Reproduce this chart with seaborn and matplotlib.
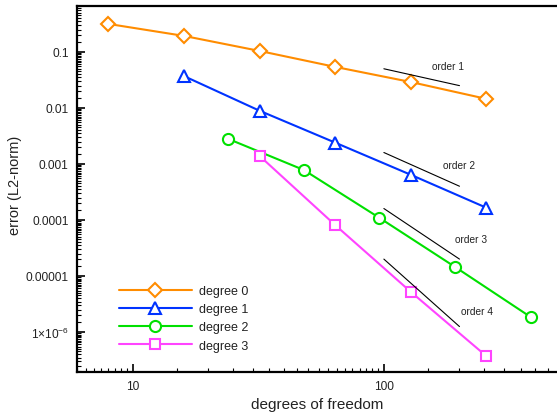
import numpy as np
import pandas as pd
import matplotlib
matplotlib.use("Agg")
import matplotlib.pyplot as plt
import matplotlib.ticker as mticker
from matplotlib.lines import Line2D
import seaborn as sns

# ---- data ----
dof0 = [8, 16, 32, 64, 128, 256]
err0 = [0.316, 0.193, 0.104, 0.054, 0.029, 0.0145]
dof1 = [16, 32, 64, 128, 256]
err1 = [0.037, 0.0089, 0.0024, 0.00064, 0.000165]
dof2 = [24, 48, 96, 192, 384]
err2 = [0.0028, 0.00078, 0.000109, 1.45e-5, 1.85e-6]
dof3 = [32, 64, 128, 256]
err3 = [0.00139, 8.1e-5, 5.2e-6, 3.7e-7]
series_names = ["degree 0", "degree 1", "degree 2", "degree 3"]

order_x = [100, 200]
order1_y = [0.050, 0.025]
order2_y = [0.0016, 0.0004]
order3_y = [1.6e-4, 2.0e-5]
order4_y = [2.0e-5, 1.25e-6]
order_names = ["order 1", "order 2", "order 3", "order 4"]
order_label_x = [180, 199, 222, 235]
order_label_y = [0.056, 0.00096, 4.6e-5, 2.4e-6]

ytick_vals = [1e-6, 1e-5, 1e-4, 1e-3, 1e-2, 1e-1]
ytick_labels = [r"$\mathregular{1{\times}10^{-6}}$", "0.00001", "0.0001", "0.001", "0.01", "0.1"]
xtick_vals = [10, 100]
xtick_labels = ["10", "100"]

# ---- style ----
sns.set_style("white")
plt.rcParams["font.family"] = ["Liberation Sans", "DejaVu Sans"]
plt.rcParams["mathtext.fontset"] = "custom"
plt.rcParams["mathtext.rm"] = "Liberation Sans"
plt.rcParams["mathtext.it"] = "Liberation Sans:italic"
plt.rcParams["mathtext.bf"] = "Liberation Sans:bold"

colors = ["#FF8C00", "#0033FF", "#00E000", "#FF44FF"]
markers = ["D", "^", "o", "s"]
msizes = [7, 8.5, 8, 7.5]

fig = plt.figure(figsize=(5.57, 4.14), dpi=100)
ax = fig.add_axes([77 / 557, 41 / 414, 1 - 77 / 557, (373 - 7) / 414])

frames = []
for name, d, e in zip(series_names, [dof0, dof1, dof2, dof3], [err0, err1, err2, err3]):
    frames.append(pd.DataFrame({"dof": d, "err": e, "series": name}))
df = pd.concat(frames, ignore_index=True)

for name, c, m, ms in zip(series_names, colors, markers, msizes):
    sub = df[df["series"] == name]
    sns.lineplot(data=sub, x="dof", y="err", ax=ax, color=c, marker=m,
                 markersize=ms, markerfacecolor="white", markeredgecolor=c,
                 markeredgewidth=1.5, linewidth=1.5, legend=False)

for oy, lab, lx, ly in zip([order1_y, order2_y, order3_y, order4_y], order_names,
                           order_label_x, order_label_y):
    ax.plot(order_x, oy, color="black", linewidth=0.8)
    ax.text(lx, ly, lab, fontsize=7.3, ha="center", va="center", color="#222222")

ax.set_xscale("log")
ax.set_yscale("log")
ax.set_xlim(6, 489)
ax.set_ylim(1.93e-7, 0.66)

ax.xaxis.set_major_locator(mticker.FixedLocator(xtick_vals))
ax.xaxis.set_major_formatter(mticker.FixedFormatter(xtick_labels))
ax.xaxis.set_minor_locator(mticker.LogLocator(base=10, subs=np.arange(1.5, 10, 0.5), numticks=50))
ax.xaxis.set_minor_formatter(mticker.NullFormatter())
ax.yaxis.set_major_locator(mticker.FixedLocator(ytick_vals))
ax.yaxis.set_major_formatter(mticker.FixedFormatter(ytick_labels))
ax.yaxis.set_minor_locator(mticker.LogLocator(base=10, subs=np.arange(1.5, 10, 0.5), numticks=50))
ax.yaxis.set_minor_formatter(mticker.NullFormatter())

ax.tick_params(which="both", direction="in", top=False, right=False, left=True, bottom=True,
               color="black")
ax.tick_params(which="major", length=6, width=1.2, pad=6, labelsize=8.6, labelcolor="#222222")
ax.tick_params(which="minor", length=3, width=0.8)

for side in ["left", "bottom", "top"]:
    ax.spines[side].set_visible(True)
    ax.spines[side].set_color("black")
    ax.spines[side].set_linewidth(1.6)
ax.spines["right"].set_visible(False)

ax.set_xlabel("degrees of freedom", fontsize=11, color="#222222")
ax.set_ylabel("error (L2-norm)", fontsize=10.5, color="#222222")
ax.xaxis.set_label_coords((317 - 77) / 480, -(398 - 373) / 366)
ax.yaxis.set_label_coords(-(77 - 22) / 480, (373 - 185) / 366)

handles = [Line2D([], [], color=c, marker=m, markersize=ms, markerfacecolor="white",
                  markeredgecolor=c, markeredgewidth=1.5, linewidth=1.5)
           for c, m, ms in zip(colors, markers, msizes)]
leg = ax.legend(handles, series_names, loc="upper left",
                bbox_to_anchor=((119 - 77) / 480, (373 - 286) / 366),
                frameon=False, fontsize=9, handlelength=5.8, handletextpad=0.6,
                labelspacing=0.5, borderaxespad=0, borderpad=0)
for t in leg.get_texts():
    t.set_color("#222222")

fig.savefig("out.png", dpi=100)
